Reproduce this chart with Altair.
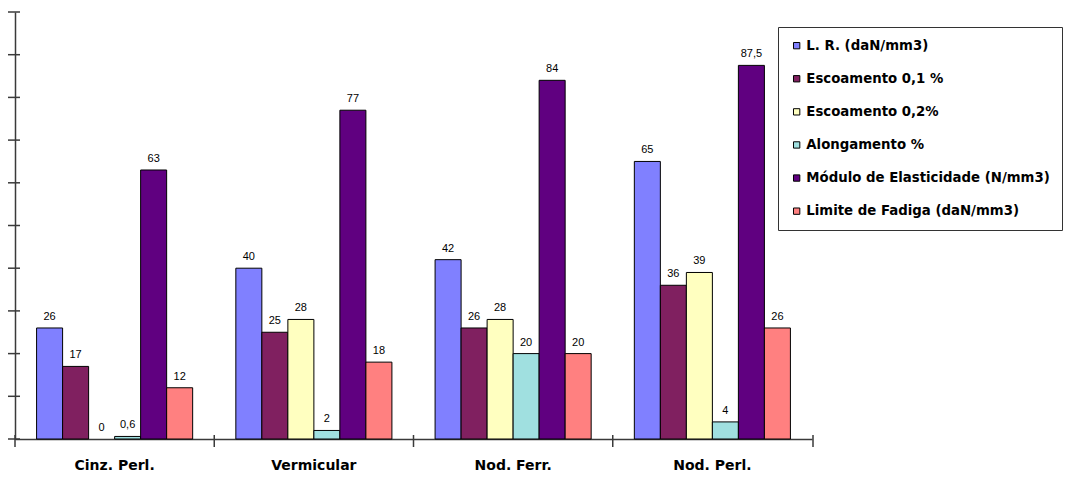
import altair as alt
import pandas as pd

categories = ["Cinz. Perl.", "Vermicular", "Nod. Ferr.", "Nod. Perl."]
series = [
    "L. R. (daN/mm3)",
    "Escoamento 0,1 %",
    "Escoamento 0,2%",
    "Alongamento %",
    "Módulo de Elasticidade (N/mm3)",
    "Limite de Fadiga (daN/mm3)",
]
lr = [26, 40, 42, 65]
esc01 = [17, 25, 26, 36]
esc02 = [0, 28, 28, 39]
along = [0.6, 2, 20, 4]
modulo = [63, 77, 84, 87.5]
fadiga = [12, 18, 20, 26]
colors = ["#8080FF", "#802060", "#FFFFC0", "#A0E0E0", "#600080", "#FF8080"]
y_ticks = [0, 10, 20, 30, 40, 50, 60, 70, 80, 90, 100]

values = [lr, esc01, esc02, along, modulo, fadiga]
rows = []
for s, vals in zip(series, values):
    for c, v in zip(categories, vals):
        rows.append({"cat": c, "series": s, "value": v,
                     "label": f"{v:g}".replace(".", ",")})
df = pd.DataFrame(rows)
cat_df = pd.DataFrame({"cat": categories})
ytick_df = pd.DataFrame({"v": y_ticks})

FONT = "Liberation Sans"
BOLD_FONT = "DejaVu Sans"
AXIS_COLOR = "#3a3a3a"

x_enc = alt.X("cat:N", sort=categories,
              scale=alt.Scale(paddingInner=0, paddingOuter=0),
              axis=alt.Axis(title=None, labelAngle=0, ticks=False,
                            labelFont=BOLD_FONT, labelFontWeight="bold", labelFontSize=14,
                            labelColor="black", labelPadding=19,
                            domainColor=AXIS_COLOR, domainWidth=1.5))
xoff = alt.XOffset("series:N", sort=series,
                   scale=alt.Scale(paddingInner=0, paddingOuter=0.83))
y_enc = alt.Y("value:Q", scale=alt.Scale(domain=[0, 100], nice=False),
              axis=alt.Axis(title=None, labels=False, ticks=False,
                            domainColor=AXIS_COLOR, domainWidth=1.5, grid=False))
color_enc = alt.Color("series:N", sort=series,
                      scale=alt.Scale(domain=series, range=colors),
                      legend=alt.Legend(title=None, orient="none", legendX=763, legendY=15,
                                        symbolType="square", symbolSize=40,
                                        symbolStrokeColor="black", symbolStrokeWidth=1,
                                        labelFont=BOLD_FONT, labelFontSize=13.3,
                                        labelFontWeight="bold", labelColor="black",
                                        rowPadding=19.1, padding=12, labelLimit=400,
                                        strokeColor="#333333", fillColor="white",
                                        cornerRadius=0, labelOffset=3))

bars = alt.Chart(df).mark_bar(stroke="black", strokeWidth=1).encode(
    x=x_enc, xOffset=xoff, y=y_enc, color=color_enc,
    strokeOpacity=alt.condition("datum.value > 0", alt.value(1), alt.value(0)))

text = alt.Chart(df).mark_text(baseline="bottom", dy=-6, fontSize=11, font=FONT,
                               fill="black").encode(
    x=alt.X("cat:N", sort=categories),
    xOffset=alt.XOffset("series:N", sort=series),
    y=alt.Y("value:Q"), text="label:N")

xticks = alt.Chart(cat_df).mark_rule(color=AXIS_COLOR, strokeWidth=1.5).encode(
    x=alt.X("cat:N", sort=categories, bandPosition=0),
    y=alt.value(423), y2=alt.value(435))

end_tick = alt.Chart(cat_df.head(1)).mark_rule(color=AXIS_COLOR, strokeWidth=1.5).encode(
    x=alt.value(798), y=alt.value(423), y2=alt.value(435))

yticks = alt.Chart(ytick_df).mark_rule(color=AXIS_COLOR, strokeWidth=1.5).encode(
    y=alt.Y("v:Q"), x=alt.value(-7), x2=alt.value(5))

chart = alt.layer(bars, text, xticks, end_tick, yticks).properties(
    width=797, height=427,
    background="white",
    autosize=alt.AutoSizeParams(type="none"),
    padding={"left": 15, "top": 12, "right": 255, "bottom": 38},
).configure_view(stroke=None)

chart.save("out.html", embed_options={"renderer": "svg", "actions": False})
